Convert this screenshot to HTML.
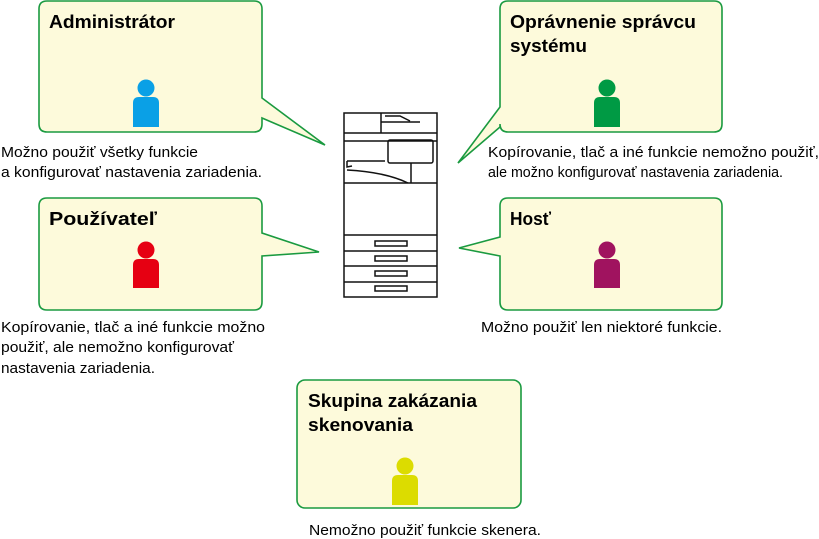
<!DOCTYPE html>
<html><head><meta charset="utf-8"><style>
html,body{margin:0;padding:0;background:#fff;}
svg{display:block;}
text{font-family:"Liberation Sans",Arial,sans-serif;}
.t{font-size:18.5px;font-weight:bold;fill:#000;}
.d{font-size:14.5px;fill:#000;}
.b{fill:#fdfadb;stroke:#1a9a40;stroke-width:1.6;}
</style></head><body>
<svg width="819" height="539" viewBox="0 0 819 539">
<!-- Admin -->
<path class="b" d="M47,1 H254 Q262,1 262,9 V98 L325,145 L262,118 V124 Q262,132 254,132 H47 Q39,132 39,124 V9 Q39,1 47,1 Z"/>
<text class="t" x="49" y="28" textLength="126" lengthAdjust="spacingAndGlyphs">Administrátor</text>
<circle cx="146" cy="88" r="8.5" fill="#0aa0e6"/>
<path d="M133,127 V103 Q133,97 139,97 H153 Q159,97 159,103 V127 Z" fill="#0aa0e6"/>
<text class="d" x="1" y="157" textLength="197" lengthAdjust="spacingAndGlyphs">Možno použiť všetky funkcie</text>
<text class="d" x="1" y="177" textLength="261" lengthAdjust="spacingAndGlyphs">a konfigurovať nastavenia zariadenia.</text>
<!-- Opravnenie -->
<path class="b" d="M508,1 H714 Q722,1 722,9 V124 Q722,132 714,132 H508 Q500,132 500,124 V127 L458,163 L500,107 V9 Q500,1 508,1 Z"/>
<text class="t" x="510" y="28" textLength="186" lengthAdjust="spacingAndGlyphs">Oprávnenie správcu</text>
<text class="t" x="510" y="52" textLength="77" lengthAdjust="spacingAndGlyphs">systému</text>
<circle cx="607" cy="88" r="8.5" fill="#009a44"/>
<path d="M594,127 V103 Q594,97 600,97 H614 Q620,97 620,103 V127 Z" fill="#009a44"/>
<text class="d" x="488" y="157" textLength="331" lengthAdjust="spacingAndGlyphs">Kopírovanie, tlač a iné funkcie nemožno použiť,</text>
<text class="d" x="488" y="177" textLength="295" lengthAdjust="spacingAndGlyphs">ale možno konfigurovať nastavenia zariadenia.</text>
<!-- Pouzivatel -->
<path class="b" d="M47,198 H254 Q262,198 262,206 V233 L319,252 L262,256 V302 Q262,310 254,310 H47 Q39,310 39,302 V206 Q39,198 47,198 Z"/>
<text class="t" x="49" y="225" textLength="108" lengthAdjust="spacingAndGlyphs">Používateľ</text>
<circle cx="146" cy="250" r="8.5" fill="#e60012"/>
<path d="M133,288 V265 Q133,259 139,259 H153 Q159,259 159,265 V288 Z" fill="#e60012"/>
<text class="d" x="1" y="332" textLength="264" lengthAdjust="spacingAndGlyphs">Kopírovanie, tlač a iné funkcie možno</text>
<text class="d" x="1" y="352" textLength="233" lengthAdjust="spacingAndGlyphs">použiť, ale nemožno konfigurovať</text>
<text class="d" x="1" y="373" textLength="154" lengthAdjust="spacingAndGlyphs">nastavenia zariadenia.</text>
<!-- Host -->
<path class="b" d="M508,198 H714 Q722,198 722,206 V302 Q722,310 714,310 H508 Q500,310 500,302 V256 L459,248 L500,237 V206 Q500,198 508,198 Z"/>
<text class="t" x="510" y="225" textLength="41" lengthAdjust="spacingAndGlyphs">Hosť</text>
<circle cx="607" cy="250" r="8.5" fill="#a0135f"/>
<path d="M594,288 V265 Q594,259 600,259 H614 Q620,259 620,265 V288 Z" fill="#a0135f"/>
<text class="d" x="481" y="332" textLength="241" lengthAdjust="spacingAndGlyphs">Možno použiť len niektoré funkcie.</text>
<!-- Skupina -->
<rect class="b" x="297" y="380" width="224" height="128" rx="8"/>
<text class="t" x="308" y="407" textLength="169" lengthAdjust="spacingAndGlyphs">Skupina zakázania</text>
<text class="t" x="308" y="431" textLength="105" lengthAdjust="spacingAndGlyphs">skenovania</text>
<circle cx="405" cy="466" r="8.5" fill="#dcdc00"/>
<path d="M392,505 V481 Q392,475 398,475 H412 Q418,475 418,481 V505 Z" fill="#dcdc00"/>
<text class="d" x="309" y="535" textLength="232" lengthAdjust="spacingAndGlyphs">Nemožno použiť funkcie skenera.</text>
<!-- Printer -->
<g fill="none" stroke="#111" stroke-width="1.5">
<rect x="344" y="113" width="93" height="184"/>
<line x1="344" y1="133" x2="437" y2="133"/>
<line x1="344" y1="141" x2="437" y2="141"/>
<line x1="344" y1="183" x2="437" y2="183"/>
<line x1="344" y1="235" x2="437" y2="235"/>
<line x1="344" y1="251" x2="437" y2="251"/>
<line x1="344" y1="266" x2="437" y2="266"/>
<line x1="344" y1="282" x2="437" y2="282"/>
<rect x="388" y="140" width="45" height="23" rx="2"/>
<line x1="411" y1="163" x2="411" y2="183"/>
<line x1="381" y1="113" x2="381" y2="133"/>
<path d="M381,122 H420 M385,116 L400,116 L410,121"/>
<path d="M347,161 H385 M347,161 V167 L352,166 M347,170 Q385,172 408,183"/>
<rect x="375" y="241" width="32" height="5"/>
<rect x="375" y="256" width="32" height="5"/>
<rect x="375" y="271" width="32" height="5"/>
<rect x="375" y="286" width="32" height="5"/>
</g>
</svg>
</body></html>
